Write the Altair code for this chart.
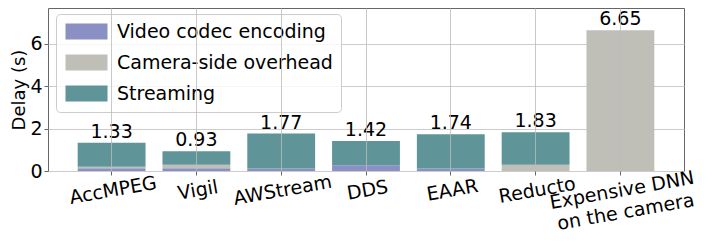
import altair as alt
import pandas as pd

categories = ["AccMPEG", "Vigil", "AWStream", "DDS", "EAAR", "Reducto", "Expensive DNN\non the camera"]
encoding = [0.13, 0.13, 0.12, 0.27, 0.12, 0.0, 0.0]
overhead = [0.07, 0.17, 0.0, 0.0, 0.0, 0.30, 6.65]
streaming = [1.13, 0.63, 1.65, 1.15, 1.62, 1.53, 0.0]
totals = [1.33, 0.93, 1.77, 1.42, 1.74, 1.83, 6.65]
series = ["Video codec encoding", "Camera-side overhead", "Streaming"]
colors = ["#8a8fc4", "#bfbfb7", "#5f9499"]

rows = []
for i, c in enumerate(categories):
    for k, (s, vals) in enumerate(zip(series, [encoding, overhead, streaming])):
        rows.append({"cat": c, "series": s, "value": vals[i], "order": k})
df = pd.DataFrame(rows)
tot_df = pd.DataFrame({"cat": categories, "total": totals, "label": [f"{t:.2f}" for t in totals]})

FONT = "DejaVu Sans"
xscale = alt.Scale(domain=categories, paddingInner=0.2, paddingOuter=0.35)
yscale = alt.Scale(domain=[0, 7.7], nice=False)

bars = alt.Chart(df).mark_bar(opacity=1).encode(
    x=alt.X("cat:N", scale=xscale, sort=categories,
            axis=alt.Axis(title=None, labelAngle=-10, labelAlign="center", labelBaseline="top",
                          labelFontSize=19, labelFont=FONT, labelColor="black", labelPadding=6,
                          labelExpr="split(datum.label, '\\n')", labelLineHeight=22,
                          grid=True, gridColor="#bbbbbb", gridOpacity=0.8, bandPosition=0.5,
                          tickColor="#666", tickSize=4, domain=False, zindex=1)),
    y=alt.Y("value:Q", scale=yscale, stack="zero",
            axis=alt.Axis(title="Delay (s)", values=[0, 2, 4, 6], format="d",
                          titleFontSize=18, titleFont=FONT, titleFontWeight="normal", titleColor="black",
                          titlePadding=1,
                          labelFontSize=19, labelFont=FONT, labelColor="black", labelPadding=2,
                          grid=True, gridColor="#cccccc", tickColor="#666", tickSize=4, domain=False)),
    color=alt.Color("series:N", scale=alt.Scale(domain=series, range=colors),
                    legend=alt.Legend(title=None, orient="none", legendX=8, legendY=6,
                                      symbolType="M-1,-1H4.25V1H-1Z", symbolSize=256,
                                      symbolStrokeWidth=0, symbolOpacity=1,
                                      labelFontSize=19, labelFont=FONT, labelColor="black",
                                      labelOffset=34, labelLimit=400, rowPadding=11, padding=8,
                                      strokeColor="#cccccc", fillColor="rgba(255,255,255,0.8)",
                                      cornerRadius=4)),
    order=alt.Order("order:Q"),
)

text = alt.Chart(tot_df).mark_text(baseline="bottom", dy=-1, fontSize=19, font=FONT, color="black").encode(
    x=alt.X("cat:N", scale=xscale, sort=categories),
    y=alt.Y("total:Q", scale=yscale),
    text="label:N",
)

chart = (bars + text).properties(
    width=636, height=163,
    autosize=alt.AutoSizeParams(type="none"),
    padding={"left": 40, "top": 0, "right": 14, "bottom": 71},
).configure_view(stroke="#666666", strokeWidth=1)

chart.save("out.html", embed_options={"renderer": "svg", "actions": False})
